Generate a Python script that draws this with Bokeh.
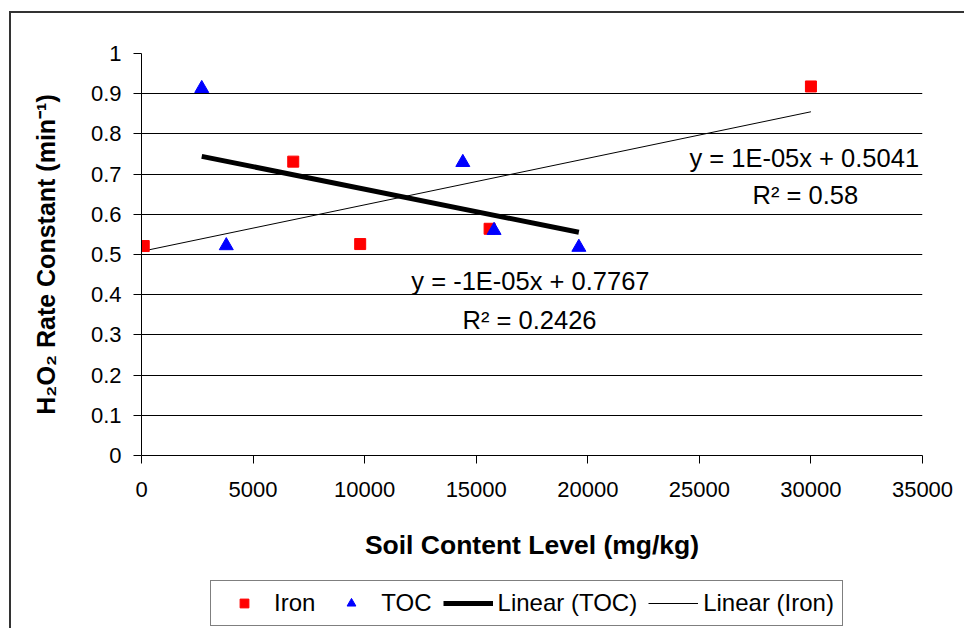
import numpy as np
from bokeh.plotting import figure
from bokeh.layouts import column
from bokeh.models import Range1d, FixedTicker, Label, Legend, LegendItem
from bokeh.embed import file_html
from bokeh.resources import INLINE

# ---- data ----
iron_x = [100, 6800, 9800, 15600, 30000]
iron_y = [0.521, 0.731, 0.526, 0.564, 0.918]
toc_x = [2700, 3800, 14400, 15800, 19600]
toc_y = [0.913, 0.522, 0.729, 0.560, 0.518]

x_ticks = [0, 5000, 10000, 15000, 20000, 25000, 30000, 35000]
x_tick_labels = ["0", "5000", "10000", "15000", "20000", "25000", "30000", "35000"]
y_ticks = [0, 0.1, 0.2, 0.3, 0.4, 0.5, 0.6, 0.7, 0.8, 0.9, 1.0]
y_tick_labels = ["0", "0.1", "0.2", "0.3", "0.4", "0.5", "0.6", "0.7", "0.8", "0.9", "1"]

iron_eq = "y = 1E-05x + 0.5041"
iron_r2 = "R\u00b2 = 0.58"
toc_eq = "y = -1E-05x + 0.7767"
toc_r2 = "R\u00b2 = 0.2426"

x_title = "Soil Content Level (mg/kg)"
y_title = "H\u2082O\u2082 Rate Constant (min\u207b\u00b9)"
legend_labels = ["Iron", "TOC", "Linear (TOC)", "Linear (Iron)"]

FONT = "Liberation Sans"

# ---- linear trend lines fitted from the data ----
def trend(xs, ys):
    m, b = np.polyfit(xs, ys, 1)
    xx = [min(xs), max(xs)]
    return xx, [m * v + b for v in xx]

iron_tx, iron_ty = trend(iron_x, iron_y)
toc_tx, toc_ty = trend(toc_x, toc_y)

def draw_series(fig):
    r_ltoc = fig.line(toc_tx, toc_ty, line_color="black", line_width=5)
    r_liron = fig.line(iron_tx, iron_ty, line_color="black", line_width=1)
    r_iron = fig.scatter(iron_x, iron_y, marker="square", size=11, fill_color="red", line_color="red")
    r_toc = fig.scatter(toc_x, toc_y, marker="triangle", size=14, fill_color="blue", line_color="blue")
    return r_iron, r_toc, r_ltoc, r_liron

p = figure(width=964, frame_height=402, output_backend="svg", toolbar_location=None,
           x_range=Range1d(0, 35000), y_range=Range1d(0, 1),
           min_border_left=141, min_border_right=42, min_border_top=53, min_border_bottom=115)
p.outline_line_color = None
p.background_fill_color = "white"
p.border_fill_color = None

# axes
p.xaxis.ticker = FixedTicker(ticks=x_ticks)
p.yaxis.ticker = FixedTicker(ticks=y_ticks)
p.xaxis.major_label_overrides = {t: l for t, l in zip(x_ticks, x_tick_labels)}
p.yaxis.major_label_overrides = {t: l for t, l in zip(y_ticks, y_tick_labels)}
for ax in (p.xaxis[0], p.yaxis[0]):
    ax.axis_line_color = "black"
    ax.major_tick_line_color = "black"
    ax.major_tick_in = 0
    ax.major_tick_out = 8
    ax.minor_tick_line_color = None
    ax.major_label_text_font = FONT
    ax.major_label_text_font_size = "22px"
    ax.major_label_text_color = "black"
    ax.axis_label_text_font = FONT
    ax.axis_label_text_font_size = "26.5px"
    ax.axis_label_text_font_style = "bold"
    ax.axis_label_text_color = "black"
p.xaxis.major_label_standoff = 18
p.yaxis.major_label_standoff = 12
p.xaxis.axis_label = x_title
p.yaxis.axis_label = y_title
p.xaxis.axis_label_standoff = 30
p.yaxis.axis_label_standoff = 28
p.yaxis.axis_label_text_font_size = "25px"

p.xgrid.visible = False
p.ygrid.ticker = FixedTicker(ticks=y_ticks)
p.ygrid.grid_line_color = "black"
p.ygrid.grid_line_width = 1

draw_series(p)

# equations
def lab(x, y, t):
    p.add_layout(Label(x=x, y=y, text=t, text_font=FONT, text_font_size="25.5px",
                       text_align="center", text_baseline="middle", text_color="black"))

lab(29700, 0.739, iron_eq)
lab(29750, 0.649, iron_r2)
lab(17430, 0.433, toc_eq)
lab(17390, 0.338, toc_r2)

# ---- legend strip (same series, drawn out of view so only the legend shows) ----
leg = figure(width=964, height=58, output_backend="svg", toolbar_location=None,
             x_range=Range1d(0, 1), y_range=Range1d(0, 1),
             x_axis_type=None, y_axis_type=None, min_border=0)
leg.grid.visible = False
leg.outline_line_color = None
leg.background_fill_color = None
leg.border_fill_color = None
leg_renderers = draw_series(leg)

legend = Legend(items=[LegendItem(label=l, renderers=[r]) for l, r in zip(legend_labels, leg_renderers)],
                orientation="horizontal", location=(69, 2))
legend.label_text_font = FONT
legend.label_text_font_size = "24px"
legend.label_text_color = "black"
legend.glyph_width = 50
legend.glyph_height = 22
legend.label_standoff = 5
legend.spacing = 11
legend.padding = 8
legend.margin = 0
legend.border_line_color = "black"
legend.border_line_width = 1
legend.background_fill_color = "white"
legend.background_fill_alpha = 1
leg.add_layout(legend, "center")

layout = column(p, leg, spacing=0)
layout.styles = {
    "background": ("linear-gradient(#333, #333) 9px 11px / 2px 100% no-repeat, "
                   "linear-gradient(#333, #333) 9px 11px / 100% 2px no-repeat, white")
}

open("out.html", "w").write(file_html(layout, INLINE))
